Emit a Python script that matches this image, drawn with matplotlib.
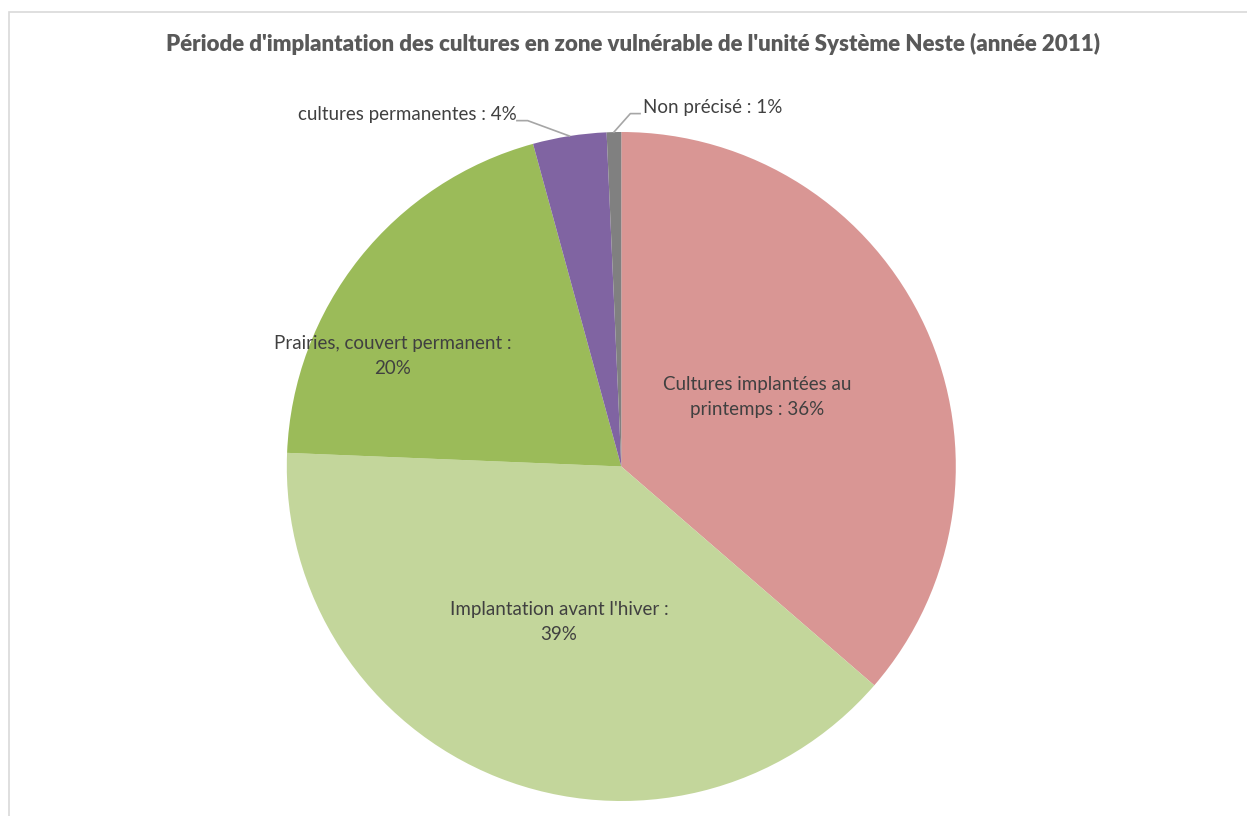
import matplotlib
matplotlib.use("Agg")
import matplotlib.pyplot as plt
from matplotlib.patches import Rectangle
import numpy as np

# Données : surfaces par période d'implantation (en %)
categories = [
    "Cultures implantées au\nprintemps",
    "Implantation avant l'hiver",
    "Prairies, couvert permanent",
    "cultures permanentes",
    "Non précisé",
]
values = [36.35, 39.3, 20.1, 3.55, 0.7]
colors = ["#D99694", "#C3D69B", "#9BBB59", "#8064A2", "#808080"]
title = "Période d'implantation des cultures en zone vulnérable de l'unité Système Neste (année 2011)"

W, H = 1247, 816
fig = plt.figure(figsize=(W / 100, H / 100), dpi=100)
fig.patch.set_facecolor("white")

# Cadre de la zone de graphique
fig.add_artist(Rectangle((9 / W, -0.01), 1.1, 1 - 12 / H + 0.01, transform=fig.transFigure,
                         fill=False, edgecolor="#D9D9D9", linewidth=1.2))

# Axe du camembert : centre (621, 466) px, rayon 334 px
cx, cy, r = 621.3, 466.5, 334.5
ax = fig.add_axes([(cx - r) / W, (H - cy - r) / H, 2 * r / W, 2 * r / H])

wedges, _ = ax.pie(values, colors=colors, startangle=90, counterclock=False,
                   radius=1, wedgeprops=dict(linewidth=0))
ax.set_xlim(-1, 1)
ax.set_ylim(-1, 1)
ax.set_aspect("equal")
ax.axis("off")

txt_color = "#404040"
font = "Lato"
fs = 13.5

def pct(v):
    return f"{int(round(v))}%"

# Étiquettes intérieures
inner = [
    (0, "Cultures implantées au\nprintemps : {}", (0.406, 0.208)),
    (1, "Implantation avant l'hiver :\n{}", (-0.186, -0.465)),
    (2, "Prairies, couvert permanent :\n{}", (-0.683, 0.330)),
]
for i, fmt, (x, y) in inner:
    ax.text(x, y, fmt.format(pct(values[i])), ha="center", va="center",
            fontsize=fs, family=font, color=txt_color, linespacing=1.55)

# Étiquettes extérieures avec lignes de rappel
def mid_point(i):
    w = wedges[i]
    ang = np.deg2rad((w.theta1 + w.theta2) / 2)
    return np.cos(ang), np.sin(ang)

# cultures permanentes
px, py = mid_point(3)
ex, ey = -0.28, 1.034
ax.plot([px, ex, -0.312], [py, ey, ey], color="#A6A6A6", lw=1.2, clip_on=False)
ax.text(-0.312, 1.051, f"{categories[3]} : {pct(values[3])}", ha="right", va="center",
        fontsize=fs, family=font, color=txt_color)

# Non précisé
px, py = mid_point(4)
ex, ey = 0.027, 1.055
ax.plot([px, ex, 0.056], [py, ey, ey], color="#A6A6A6", lw=1.2, clip_on=False)
ax.text(0.065, 1.072, f"{categories[4]} : {pct(values[4])}", ha="left", va="center",
        fontsize=fs, family=font, color=txt_color)

fig.text(632.5 / W, 1 - 44 / H, title, ha="center", va="center", fontsize=16,
         fontweight="heavy", family=font, color="#595959")

fig.savefig("out.png", dpi=100)
